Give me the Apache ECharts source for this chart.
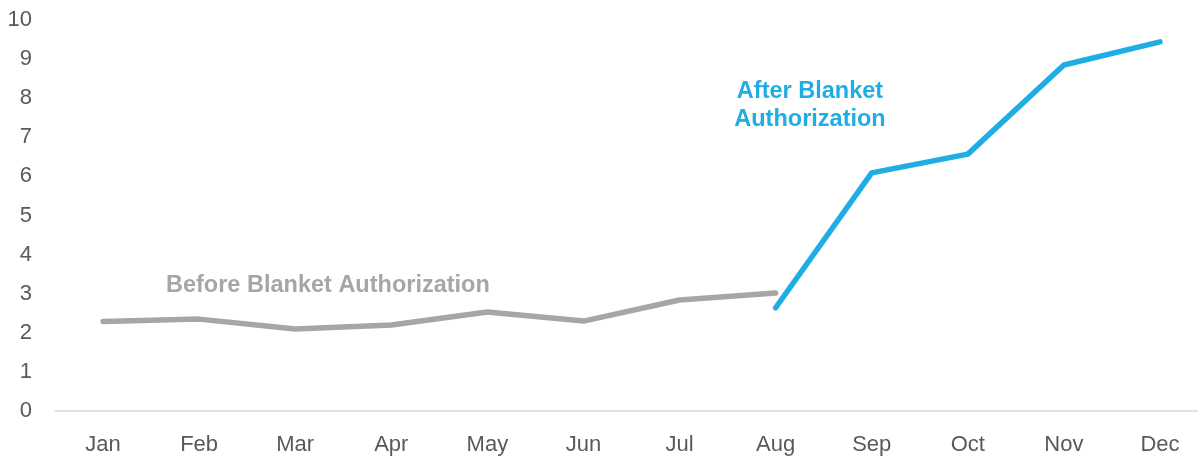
<!DOCTYPE html>
<html>
<head>
<meta charset="utf-8">
<style>
  html, body { margin: 0; padding: 0; background: #fff; }
  #chart { width: 1198px; height: 458px; }
</style>
<script src="https://cdn.jsdelivr.net/npm/echarts@6/dist/echarts.min.js"></script>
</head>
<body>
<div id="chart"></div>
<script>
// Monthly values, before and after the blanket authorization
const months = ['Jan', 'Feb', 'Mar', 'Apr', 'May', 'Jun', 'Jul', 'Aug', 'Sep', 'Oct', 'Nov', 'Dec'];
const beforeValues = [2.29, 2.35, 2.10, 2.20, 2.53, 2.30, 2.84, 3.02, null, null, null, null];
const afterValues = [null, null, null, null, null, null, null, 2.64, 6.09, 6.57, 8.85, 9.44];
const yTicks = [0, 1, 2, 3, 4, 5, 6, 7, 8, 9, 10];

const GRAY = '#a6a6a6';
const BLUE = '#1fade4';
const FONT = '"Liberation Sans", Arial, sans-serif';

const chart = echarts.init(document.getElementById('chart'));
chart.setOption({
  animation: false,
  grid: { left: 55, width: 1153, top: 20, height: 391, outerBoundsMode: 'none' },
  xAxis: {
    type: 'category',
    data: months,
    boundaryGap: true,
    axisLine: { lineStyle: { color: '#d9d9d9', width: 1.5 } },
    axisTick: { show: false },
    axisLabel: { color: '#595959', fontSize: 22, fontFamily: FONT, margin: 23 }
  },
  yAxis: {
    type: 'value',
    min: yTicks[0],
    max: yTicks[yTicks.length - 1],
    interval: 1,
    splitLine: { show: false },
    axisLine: { show: false },
    axisTick: { show: false },
    axisLabel: { color: '#595959', fontSize: 22, fontFamily: FONT, margin: 23 }
  },
  series: [
    {
      type: 'line',
      data: beforeValues,
      symbol: 'none',
      lineStyle: { color: GRAY, width: 5.5, cap: 'round', join: 'round' }
    },
    {
      type: 'line',
      data: afterValues,
      symbol: 'none',
      lineStyle: { color: BLUE, width: 5.5, cap: 'round', join: 'round' }
    }
  ],
  graphic: [
    {
      type: 'text',
      x: 166, y: 274,
      style: { text: 'Before Blanket Authorization', fill: GRAY, font: 'bold 23.5px ' + FONT }
    },
    {
      type: 'text',
      x: 810, y: 78,
      style: {
        text: 'After Blanket\nAuthorization',
        fill: BLUE,
        font: 'bold 23.5px ' + FONT,
        align: 'center',
        lineHeight: 28
      }
    }
  ]
});
</script>
</body>
</html>
